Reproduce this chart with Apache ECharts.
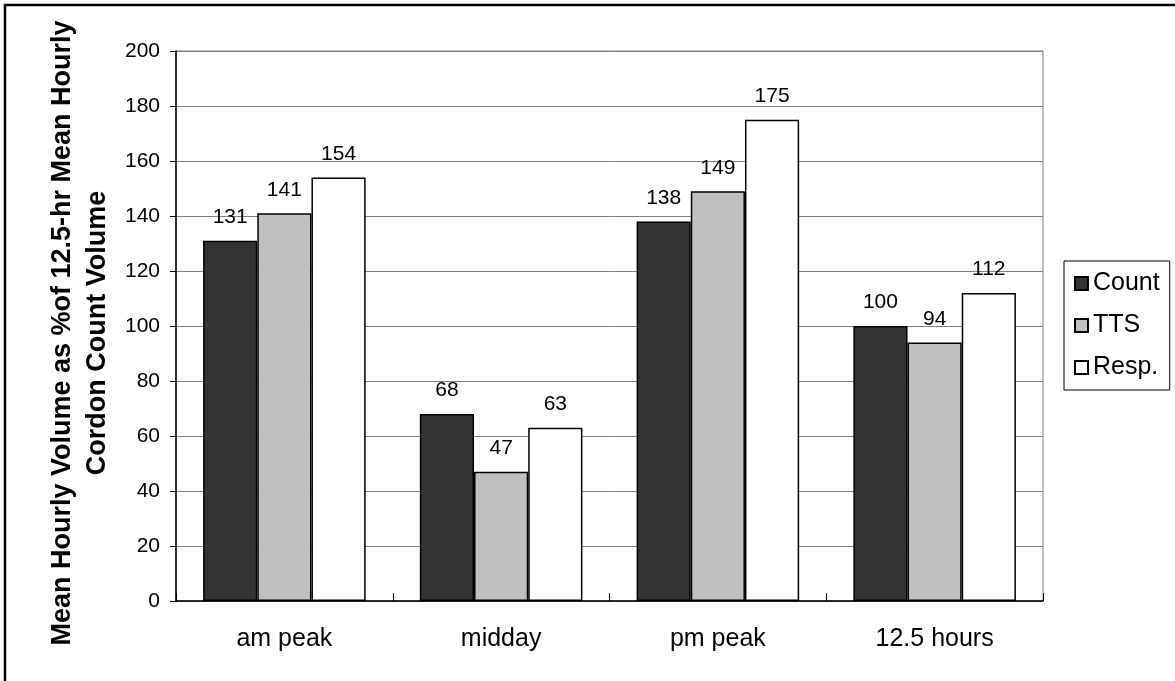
<!DOCTYPE html>
<html>
<head>
<meta charset="utf-8">
<script src="https://cdn.jsdelivr.net/npm/echarts@6/dist/echarts.min.js"></script>
<style>
html,body{margin:0;padding:0;background:#fff;}
#chart{width:1175px;height:681px;}
</style>
</head>
<body>
<div id="chart"></div>
<script>
var categories = ['am peak', 'midday', 'pm peak', '12.5 hours'];
var countValues = [131, 68, 138, 100];
var ttsValues = [141, 47, 149, 94];
var respValues = [154, 63, 175, 112];
var seriesNames = ['Count', 'TTS', 'Resp.'];
var seriesColors = ['#333333', '#c0c0c0', '#ffffff'];
var yTitle = 'Mean Hourly Volume as %of 12.5-hr Mean Hourly\nCordon Count Volume';

var FONT = '"Liberation Sans", Arial, sans-serif';
var chart = echarts.init(document.getElementById('chart'), null, {renderer: 'canvas'});

function mkSeries(name, data, color) {
  return {
    name: name,
    type: 'bar',
    data: data,
    barWidth: '25%',
    barGap: '0%',
    itemStyle: {color: color, borderColor: '#000', borderWidth: 1.5},
    label: {
      show: true, position: 'top', distance: 13,
      color: '#000', fontFamily: FONT, fontSize: 21
    },
    emphasis: {disabled: true},
    animation: false
  };
}

chart.setOption({
  animation: false,
  backgroundColor: '#fff',
  grid: {left: 176, right: 132, top: 51, bottom: 80, show: true, borderColor: '#808080', borderWidth: 1, backgroundColor: 'transparent'},
  legend: {
    orient: 'vertical',
    left: 1064, top: 261,
    padding: [10, 10, 10, 10],
    itemWidth: 13, itemHeight: 13, itemGap: 17,
    itemTextGap: 13,
    icon: 'rect',
    borderColor: '#000', borderWidth: 1,
    textStyle: {fontFamily: FONT, fontSize: 25, color: '#000'},
    data: seriesNames
  },
  xAxis: {
    type: 'category',
    data: categories,
    axisLine: {lineStyle: {color: '#000', width: 1.5}},
    axisTick: {show: true, inside: true, length: 8, lineStyle: {color: '#000'}},
    axisLabel: {fontFamily: FONT, fontSize: 25, color: '#000', margin: 26},
    splitLine: {show: false}
  },
  yAxis: {
    type: 'value',
    min: 0, max: 200, interval: 20,
    axisLine: {show: true, lineStyle: {color: '#000', width: 1.5}},
    axisTick: {show: true, length: 6, lineStyle: {color: '#000'}},
    axisLabel: {fontFamily: FONT, fontSize: 21, color: '#000', margin: 16},
    splitLine: {show: true, lineStyle: {color: '#808080', width: 1}}
  },
  graphic: [{
    type: 'rect',
    shape: {x: 5, y: 5, width: 1200, height: 700},
    style: {fill: null, stroke: '#000', lineWidth: 2.5},
    silent: true
  }, {
    type: 'text',
    x: 80, y: 333,
    rotation: Math.PI / 2,
    silent: true,
    style: {
      text: yTitle,
      fontFamily: FONT, fontSize: 27, fontWeight: 'bold',
      fill: '#000', lineHeight: 35,
      align: 'center', verticalAlign: 'middle'
    }
  }],
  series: [
    mkSeries(seriesNames[0], countValues, seriesColors[0]),
    mkSeries(seriesNames[1], ttsValues, seriesColors[1]),
    mkSeries(seriesNames[2], respValues, seriesColors[2])
  ]
});
</script>
</body>
</html>
